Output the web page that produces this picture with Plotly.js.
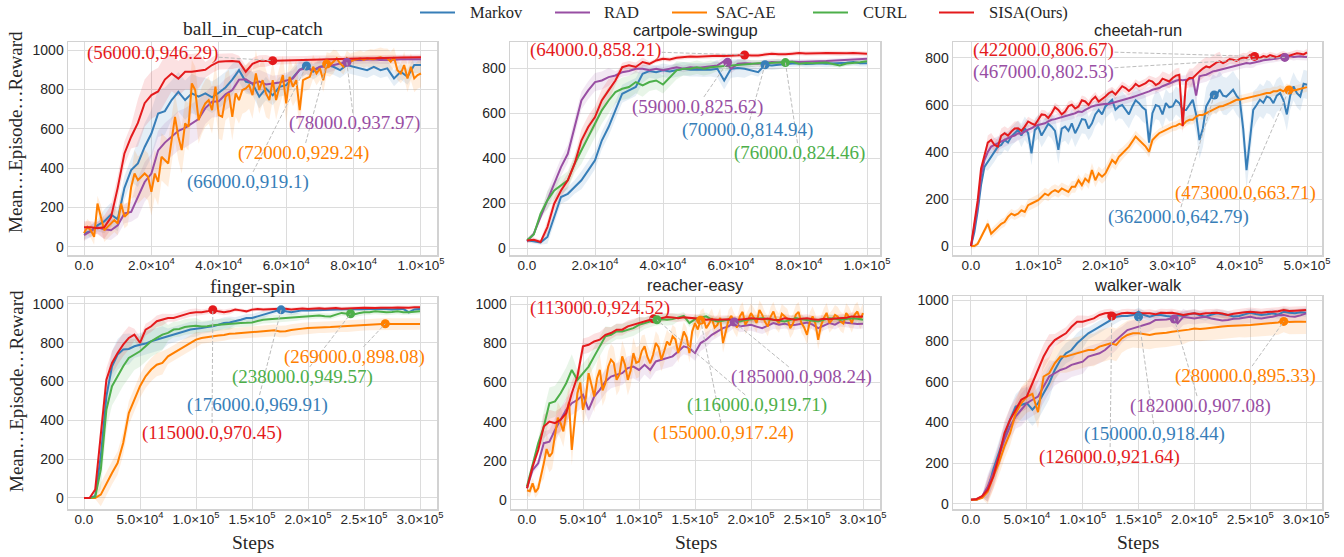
<!DOCTYPE html>
<html><head><meta charset="utf-8">
<script src="https://cdn.plot.ly/plotly-3.0.1.min.js"></script>
<style>html,body{margin:0;padding:0;background:#fff}</style>
</head><body><div id="chart" style="width:1344px;height:557px"></div>
<script>
const SERIES = ['Markov','RAD','SAC-AE','CURL','SISA(Ours)'];
const COLORS = ['#377eb8','#984ea3','#ff7f00','#4daf4a','#e41a1c'];
const BAND_RGB = ['55,126,184','152,78,163','255,127,0','77,175,74','228,26,28'];
const TASKS = ['ball_in_cup-catch','cartpole-swingup','cheetah-run','finger-spin','reacher-easy','walker-walk'];
const LAST_STEP = [100000,100000,500000,300000,300000,300000];

// ---- ball_in_cup-catch ----
const ballMarkov = [68,80,110,130,165,140,300,390,424,508,576,678,690,746,788,746,780,763,780,760,783,810,850,898,840,830,763,805,770,813,822,860,900,919,890,915,924,915,898,924,915,907,898,915,898,907,856,890,864,924,924];
const ballRAD = [60,80,100,90,85,110,170,178,250,330,373,490,530,559,590,605,627,650,705,737,740,775,797,850,852,830,840,825,830,835,845,856,900,907,898,915,915,924,932,938,949,950,952,953,950,949,951,953,952,953,953];
const ballSACAE = [70,102,85,51,220,153,85,102,119,136,119,220,153,170,305,373,339,356,373,356,280,373,330,458,441,424,542,661,559,492,627,610,831,797,644,695,729,746,695,814,670,661,763,780,661,780,746,797,805,822,771,881,797,847,780,746,847,746,814,873,729,864,814,847,695,847,856,864,915,881,907,847,929,924,941,958,932,915,958,941,949,955,958,950,958,955,953,960,963,958,958,941,963,898,881,924,856,915,856,873,881];
const ballSISA = [100,100,95,100,150,300,475,560,630,730,771,790,850,881,855,890,890,895,900,924,941,943,944,941,890,930,944,945,946,948,948,949,950,950,952,951,953,953,955,956,956,957,958,958,960,960,961,962,962,963,963];
const ballMarkovSd = [30,60,120,100,80,60,50,40,40,40,40];
const ballRADSd = [30,50,100,100,80,60,40,30,20,20,20];
const ballSACAESd = [40,60,120,120,120,120,100,60,40,50,70];
const ballSISASd = [30,60,120,90,40,30,20,20,15,15,15];

// ---- cartpole-swingup ----
const cartMarkov = [35,30,25,49,138,227,241,271,301,345,390,478,538,612,686,701,716,775,787,782,790,785,790,797,793,793,790,793,797,745,797,800,797,790,782,815,812,815,819,820,822,818,819,821,819,820,822,824,827,822,822];
const cartRAD = [30,64,138,212,286,360,419,538,656,701,738,745,760,767,782,787,797,797,790,797,790,797,804,797,804,801,804,807,812,831,797,819,822,820,819,823,827,825,827,828,827,829,831,830,831,833,834,835,837,839,841];
const cartCURL = [35,60,153,212,256,279,301,375,434,493,553,612,656,693,708,716,738,723,738,745,727,760,790,797,797,804,797,804,807,807,812,815,819,820,822,821,822,826,824,828,819,823,822,824,825,818,812,820,822,826,830];
const cartSISA = [34,37,27,93,197,256,301,375,478,538,582,656,701,745,804,812,805,827,819,834,841,838,846,848,852,850,852,853,855,854,856,857,858,856,856,860,864,862,861,864,867,865,864,866,867,866,864,866,867,865,864];
const cartMarkovSd = [10,30,40,40,30,30,40,20,15,15,15];
const cartRADSd = [10,40,40,20,15,15,20,15,10,10,10];
const cartCURLSd = [10,40,60,50,40,30,20,15,10,10,10];
const cartSISASd = [10,30,50,20,10,10,10,10,10,10,10];

// ---- cheetah-run ----
const cheeMarkov = [0,60,150,260,337,360,380,400,423,430,451,440,466,480,494,470,501,480,394,494,508,470,494,520,508,490,409,500,508,490,522,480,508,540,537,500,522,560,579,560,594,610,622,580,594,600,579,560,594,620,608,590,579,440,565,600,594,560,608,590,594,620,608,580,579,600,622,560,451,500,594,620,651,640,665,640,636,650,665,640,622,500,323,450,579,600,622,610,636,630,608,640,651,620,560,640,679,650,636,690,686];
const cheeRAD = [0,80,170,300,366,400,423,430,437,445,451,460,466,470,480,478,487,495,501,510,515,518,522,530,537,540,544,548,551,556,558,565,572,570,579,588,594,598,601,603,605,604,608,612,615,618,622,628,633,638,643,647,651,658,665,668,672,680,686,693,700,703,707,705,707,712,715,640,722,726,729,736,743,746,750,754,757,760,764,768,772,776,779,777,779,783,786,790,793,795,796,798,800,803,806,808,804,806,807,805,804];
const cheeSACAE = [0,0,10,38,67,95,53,67,81,95,102,124,138,131,138,152,145,174,181,188,195,209,223,216,230,238,230,245,238,230,252,252,280,259,287,273,323,280,309,295,309,337,366,352,380,394,409,423,444,466,451,437,423,401,451,466,480,487,494,501,508,511,520,515,530,537,537,551,558,558,565,572,582,586,594,596,601,608,615,622,622,625,629,632,636,639,643,647,651,651,658,658,665,658,672,665,662,665,668,672,676];
const cheeSISA = [0,90,195,330,380,440,451,430,423,470,480,470,487,500,501,490,508,530,522,515,537,560,558,545,565,590,579,560,572,595,601,585,594,620,615,600,622,635,615,625,636,650,658,645,665,680,672,660,672,690,679,685,693,705,700,685,693,712,707,700,715,725,729,510,700,715,715,730,743,755,764,760,772,780,786,778,786,795,793,788,796,802,800,812,808,805,800,808,804,812,807,803,810,816,807,812,814,820,818,815,824];
const cheeMarkovSd = [10,40,50,60,50,60,60,80,80,70,60];
const cheeRADSd = [10,30,20,20,20,20,20,30,20,15,15];
const cheeSACAESd = [10,20,25,25,30,25,20,20,20,20,20];
const cheeSISASd = [10,30,20,20,20,20,30,40,20,15,15];

// ---- finger-spin ----
const fingMarkov = [0,0,10,215,524,679,739,765,768,782,790,796,808,816,825,833,842,851,859,868,871,876,881,885,893,902,905,911,919,928,928,936,945,954,962,970,962,957,962,967,967,968,971,970,972,971,973,972,974,973,974,975,973,975,974,972,974,975,957,972,974];
const fingSACAE = [0,0,0,17,77,129,180,283,438,507,576,627,662,687,696,730,747,765,782,799,816,825,830,833,837,840,847,848,851,853,854,857,859,862,864,858,859,866,871,873,876,878,881,880,881,883,885,886,888,890,893,895,897,896,898,897,897,898,898,897,897];
const fingCURL = [0,0,5,146,455,576,627,679,722,739,756,782,808,825,842,851,868,871,881,885,888,884,885,890,893,895,897,900,902,903,905,912,919,921,923,925,928,930,933,934,936,938,940,937,936,945,954,950,945,952,957,958,962,960,957,959,962,958,957,960,962];
const fingSISA = [0,0,43,335,610,696,747,790,825,842,800,868,885,911,919,928,928,936,945,954,957,957,962,970,962,957,962,971,967,962,971,974,971,974,974,975,976,972,975,977,974,976,978,975,977,979,976,978,977,979,980,978,979,981,979,980,982,980,981,983,983];
const fingMarkovSd = [5,80,60,40,30,20,15,10,10,10,10];
const fingSACAESd = [5,60,60,40,30,30,30,30,30,30,30];
const fingCURLSd = [5,100,80,40,30,20,20,15,15,15,15];
const fingSISASd = [5,60,30,20,15,10,10,10,10,10,10];

// ---- reacher-easy ----
const reacRAD = [60,153,187,290,298,358,409,460,494,511,537,460,528,562,605,630,639,647,673,681,664,690,664,707,716,724,733,758,784,775,750,801,818,843,860,877,886,908,886,890,894,885,877,890,903,895,900,892,894,900,906,895,877,890,903,895,911,905,903,898,900];
const reacSACAE = [50,45,85,40,60,120,187,260,221,240,324,420,392,350,443,500,255,420,545,600,460,520,647,590,528,620,664,560,596,680,716,700,613,640,733,690,613,660,750,700,707,760,784,730,698,740,801,780,716,760,809,790,835,820,750,800,860,830,750,860,903,870,917,930,877,900,928,880,894,930,801,860,920,940,903,880,937,960,894,920,954,930,903,970,945,910,886,935,962,920,903,950,937,925,877,900,945,960,903,880,843,910,937,900,818,890,928,955,903,920,945,935,911,900,954,935,903,945,962,920,954];
const reacCURL = [70,175,290,375,494,503,545,596,664,613,647,681,733,784,835,843,860,860,869,877,894,903,911,920,923,920,923,932,940,903,923,930,937,920,911,915,920,912,911,918,920,925,928,922,920,915,911,918,928,922,920,915,911,920,928,925,920,924,928,925,920];
const reacSISA = [60,170,255,375,400,392,409,443,545,630,784,792,809,818,843,852,869,869,886,894,903,911,920,923,928,934,932,928,932,930,928,925,920,922,920,921,923,918,920,924,928,925,923,926,920,918,928,924,920,925,928,922,920,925,923,926,928,930,937,935,937];
const reacRADSd = [20,60,60,60,50,40,30,30,25,25,25];
const reacSACAESd = [30,80,80,80,60,50,50,50,50,50,50];
const reacCURLSd = [20,80,50,40,30,20,20,20,20,20,20];
const reacSISASd = [20,60,40,30,20,20,20,20,20,20,20];

// ---- walker-walk ----
const walkMarkov = [20,22,35,70,168,250,331,413,478,486,494,462,494,543,592,657,706,739,755,788,812,837,853,869,886,902,918,922,922,927,943,927,918,927,927,922,918,925,922,930,935,925,918,928,935,930,927,920,922,930,938,932,927,930,935,928,943,938,935,940,938];
const walkRAD = [20,20,38,86,152,233,315,380,429,462,494,511,527,576,625,641,657,666,682,690,698,723,731,739,755,780,804,829,853,861,869,878,886,902,902,905,910,886,918,914,910,915,918,910,905,900,902,908,910,915,918,912,910,915,918,925,927,920,918,925,935];
const walkSACAE = [20,20,30,60,135,201,282,347,445,494,527,540,450,625,641,690,723,723,731,739,747,755,755,772,780,788,780,812,829,837,837,832,829,835,837,840,845,848,853,855,861,858,861,865,869,870,873,875,878,877,878,880,882,884,886,890,902,892,894,893,894];
const walkSISA = [20,24,38,70,135,233,347,413,462,511,527,592,657,723,772,804,821,837,869,894,894,902,910,927,935,938,927,935,938,935,935,932,935,930,938,936,938,933,927,932,935,930,935,936,938,934,927,933,938,940,943,940,938,941,943,945,951,947,948,950,951];
const walkMarkovSd = [5,60,80,50,30,20,20,20,20,20,20];
const walkRADSd = [5,60,80,60,50,40,40,30,30,30,30];
const walkSACAESd = [5,60,80,80,80,70,70,60,60,60,60];
const walkSISASd = [5,60,60,30,20,20,20,20,20,20,20];

// best points annotated: [seriesIndex, step, reward]
const ballBest = [[4,56000,946.29],[1,78000,937.97],[2,72000,929.24],[0,66000,919.1]];
const cartBest = [[4,64000,858.21],[1,59000,825.62],[0,70000,814.94],[3,76000,824.46]];
const cheeBest = [[4,422000,806.67],[1,467000,802.53],[2,473000,663.71],[0,362000,642.79]];
const fingBest = [[2,269000,898.08],[3,238000,949.57],[0,176000,969.91],[4,115000,970.45]];
const reacBest = [[4,113000,924.52],[1,185000,908.24],[3,116000,919.71],[2,155000,917.24]];
const walkBest = [[2,280000,895.33],[1,182000,907.08],[0,150000,918.44],[4,126000,921.64]];

// tick labels
const tickY1000 = [0,200,400,600,800,1000];
const tickY800 = [0,200,400,600,800];
const tick1e5 = [0,20000,40000,60000,80000,100000];
const tick1e5Text = ['0.0','2.0×10<sup>4</sup>','4.0×10<sup>4</sup>','6.0×10<sup>4</sup>','8.0×10<sup>4</sup>','1.0×10<sup>5</sup>'];
const tick5e5 = [0,100000,200000,300000,400000,500000];
const tick5e5Text = ['0.0','1.0×10<sup>5</sup>','2.0×10<sup>5</sup>','3.0×10<sup>5</sup>','4.0×10<sup>5</sup>','5.0×10<sup>5</sup>'];
const tick3e5 = [0,50000,100000,150000,200000,250000,300000];
const tick3e5Text = ['0.0','5.0×10<sup>4</sup>','1.0×10<sup>5</sup>','1.5×10<sup>5</sup>','2.0×10<sup>5</sup>','2.5×10<sup>5</sup>','3.0×10<sup>5</sup>'];

// ----- assembly (layout / style) -----
const CURVES = [
  [[0,ballMarkov,ballMarkovSd],[1,ballRAD,ballRADSd],[2,ballSACAE,ballSACAESd],[4,ballSISA,ballSISASd]],
  [[0,cartMarkov,cartMarkovSd],[1,cartRAD,cartRADSd],[3,cartCURL,cartCURLSd],[4,cartSISA,cartSISASd]],
  [[0,cheeMarkov,cheeMarkovSd],[1,cheeRAD,cheeRADSd],[2,cheeSACAE,cheeSACAESd],[4,cheeSISA,cheeSISASd]],
  [[0,fingMarkov,fingMarkovSd],[2,fingSACAE,fingSACAESd],[3,fingCURL,fingCURLSd],[4,fingSISA,fingSISASd]],
  [[1,reacRAD,reacRADSd],[2,reacSACAE,reacSACAESd],[3,reacCURL,reacCURLSd],[4,reacSISA,reacSISASd]],
  [[0,walkMarkov,walkMarkovSd],[1,walkRAD,walkRADSd],[2,walkSACAE,walkSACAESd],[4,walkSISA,walkSISASd]]
];
const BEST = [ballBest,cartBest,cheeBest,fingBest,reacBest,walkBest];
// label centres (layout positions in data units)
const LABEL_POS = [
  [[20178,985],[80119,629],[64985,477],[48665,330]],
  [[20000,880],[50000,627],[64706,524],[80000,422]],
  [[107143,834],[107143,740],[407738,226],[308036,123]],
  [[241071,727],[194643,624],[154464,479],[114286,335]],
  [[65179,980],[244643,628],[205357,485],[175000,342]],
  [[245300,627],[205014,480],[164727,343],[124440,230]]
];
const W = 1344, H = 557;
const XDOM = [[68/W,437/W],[510/W,880/W],[953/W,1322/W],[68/W,437/W],[511/W,880/W],[953/W,1322/W]];
const YDOM = [[1-255/H,1-42/H],[1-255/H,1-42/H],[1-255/H,1-42/H],[1-509/H,1-297/H],[1-509/H,1-297/H],[1-509/H,1-296/H]];
const XR = [[-4750,104750],[-5000,103824],[-26786,522321],[-14286,315179],[-14286,315179],[-16100,314234]];
const YR = [[-41,1041],[-31,916],[-38,868],[-57,1036],[-46,1036],[-25,1020]];
const XT = [[tick1e5,tick1e5Text],[tick1e5,tick1e5Text],[tick5e5,tick5e5Text],[tick3e5,tick3e5Text],[tick3e5,tick3e5Text],[tick3e5,tick3e5Text]];
const YT = [tickY1000,tickY800,tickY800,tickY1000,tickY1000,tickY1000];
// title centres (pixels from top)
const TITLE_Y = [28.5,30,30,286,285,285];
// legend layout (pixels): line starts and text starts, row centre
const LEG_LINE_X = [420,555,672,813,939];
const LEG_TEXT_X = [468,602,714,861,987];
const LEG_Y = 12.5;

const SERIF = 'Liberation Serif, Times New Roman, serif';
const SANS = 'Liberation Sans, Arial, sans-serif';
const DARK = '#262626';
const ANN_SIZE = 19;

function textWidth(s, size){
  let em = 0;
  for (const c of s){
    if ('0123456789'.includes(c)) em += 0.5;
    else if (c === '(' || c === ')') em += 0.333;
    else em += 0.25;
  }
  return em*size;
}

const traces = [];
const shapes = [];
const annotations = [];
const layout = {
  width: W, height: H, autosize: false,
  margin: {l:0, r:0, t:0, b:0},
  paper_bgcolor: '#ffffff', plot_bgcolor: '#ffffff',
  hovermode: false,
  showlegend: false
};

TASKS.forEach((task, t) => {
  const suf = t === 0 ? '' : String(t+1);
  const xa = 'x'+suf, ya = 'y'+suf;
  layout['xaxis'+suf] = {
    domain: XDOM[t], range: XR[t], anchor: ya,
    showline: true, linecolor:'#d2d2d2', linewidth: 1.5, mirror: true,
    showgrid: true, gridcolor:'#dcdcdc', gridwidth: 1, zeroline: false, ticks: '',
    tickmode: 'array', tickvals: XT[t][0], ticktext: XT[t][1], ticklabelstandoff: -3,
    tickfont: {family: SANS, size: 13.5, color: DARK}
  };
  layout['yaxis'+suf] = {
    domain: YDOM[t], range: YR[t], anchor: xa,
    showline: true, linecolor:'#d2d2d2', linewidth: 1.5, mirror: true,
    showgrid: true, gridcolor:'#dcdcdc', gridwidth: 1, zeroline: false, ticks: '',
    tickmode: 'array', tickvals: YT[t],
    tickfont: {family: SANS, size: 14, color: DARK}
  };
  // bands
  CURVES[t].forEach(([s, vals, sd]) => {
    const n = vals.length;
    const xs = vals.map((_, i) => i*LAST_STEP[t]/(n-1));
    const up = vals.map((v, i) => v + sd[Math.round(i*(sd.length-1)/(n-1))]);
    const lo = vals.map((v, i) => v - sd[Math.round(i*(sd.length-1)/(n-1))]);
    traces.push({x: xs.concat(xs.slice().reverse()), y: up.concat(lo.slice().reverse()),
      type:'scatter', mode:'lines', fill:'toself', fillcolor:`rgba(${BAND_RGB[s]},0.13)`,
      line:{width:0, color:'rgba(0,0,0,0)'}, showlegend:false, hoverinfo:'skip', xaxis:xa, yaxis:ya});
  });
  // mean lines
  CURVES[t].forEach(([s, vals]) => {
    const n = vals.length;
    const xs = vals.map((_, i) => i*LAST_STEP[t]/(n-1));
    traces.push({x: xs, y: vals, type:'scatter', mode:'lines', name: SERIES[s],
      line:{color: COLORS[s], width: 2}, xaxis: xa, yaxis: ya});
  });
  // best-point markers
  const best = BEST[t];
  traces.push({x: best.map(b => b[1]), y: best.map(b => b[2]), type:'scatter', mode:'markers',
    marker:{size: 9, color: best.map(b => COLORS[b[0]])}, xaxis:xa, yaxis:ya});
  // labels and leader lines
  const pxX = (XDOM[t][1]-XDOM[t][0])*W/(XR[t][1]-XR[t][0]);
  const pxY = (YDOM[t][1]-YDOM[t][0])*H/(YR[t][1]-YR[t][0]);
  best.forEach((b, k) => {
    const label = '(' + b[1].toFixed(1) + ',' + b[2] + ')';
    const [tx, ty] = LABEL_POS[t][k];
    annotations.push({x: tx, y: ty, xref: xa, yref: ya, text: label, showarrow: false,
      xanchor:'center', yanchor:'middle', font:{family: SERIF, size: ANN_SIZE, color: COLORS[b[0]]}});
    const dx = (b[1]-tx)*pxX, dy = (b[2]-ty)*pxY;
    const hw = textWidth(label, ANN_SIZE)/2 + 1, hh = 10;
    const tt = Math.min(hw/Math.max(Math.abs(dx),1e-6), hh/Math.max(Math.abs(dy),1e-6));
    if (tt < 1) {
      shapes.push({type:'line', xref: xa, yref: ya, x0: tx + tt*dx/pxX, y0: ty + tt*dy/pxY, x1: b[1], y1: b[2],
        line:{color:'#bdbdbd', width:1, dash:'4px,2px'}, layer:'above'});
    }
  });
  // subplot title
  const isSerif = (t === 0 || t === 3);
  annotations.push({xref:'paper', yref:'paper', x:(XDOM[t][0]+XDOM[t][1])/2, y: 1-TITLE_Y[t]/H,
    text: task, showarrow:false, xanchor:'center', yanchor:'middle',
    font:{family: isSerif ? SERIF : SANS, size: isSerif ? 19.5 : 16.5, color: DARK}});
});

// legend (figure-level, top centre)
SERIES.forEach((name, s) => {
  shapes.push({type:'line', xref:'paper', yref:'paper', x0: LEG_LINE_X[s]/W, x1: (LEG_LINE_X[s]+35)/W,
    y0: 1-LEG_Y/H, y1: 1-LEG_Y/H, line:{color: COLORS[s], width: 2}});
  annotations.push({xref:'paper', yref:'paper', x: LEG_TEXT_X[s]/W, y: 1-LEG_Y/H, text: name,
    showarrow:false, xanchor:'left', yanchor:'middle', font:{family:SERIF, size:16.5, color:DARK}});
});

// axis titles
annotations.push({xref:'paper', yref:'paper', x:16/W, y:1-132/H, text:'Mean…Episode…Reward', textangle:-90,
  showarrow:false, xanchor:'center', yanchor:'middle', font:{family:SERIF, size:19, color:DARK}});
annotations.push({xref:'paper', yref:'paper', x:16/W, y:1-391/H, text:'Mean…Episode…Reward', textangle:-90,
  showarrow:false, xanchor:'center', yanchor:'middle', font:{family:SERIF, size:19, color:DARK}});
[3,4,5].forEach(t => {
  annotations.push({xref:'paper', yref:'paper', x:(XDOM[t][0]+XDOM[t][1])/2, y:1-542/H, text:'Steps',
    showarrow:false, xanchor:'center', yanchor:'middle', font:{family:SERIF, size:19.5, color:DARK}});
});
layout.annotations = annotations;
layout.shapes = shapes;

Plotly.newPlot('chart', traces, layout, {displayModeBar:false, staticPlot:true});
</script></body></html>
